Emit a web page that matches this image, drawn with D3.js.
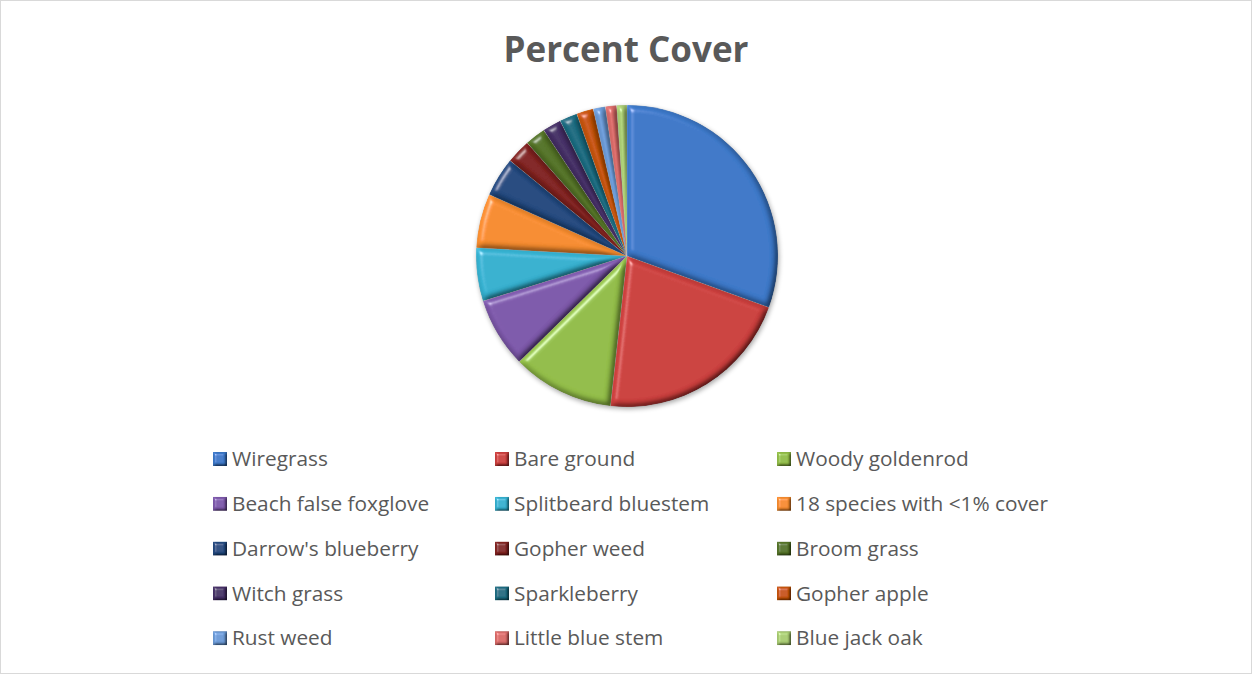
<!DOCTYPE html>
<html>
<head>
<meta charset="utf-8">
<script src="https://cdn.jsdelivr.net/npm/d3@7"></script>
<style>
  html, body { margin: 0; padding: 0; background: #ffffff; }
  svg { display: block; }
</style>
</head>
<body>
<svg id="chart" width="1252" height="674"></svg>
<script>
// Ground-cover composition of the plot, in percent
const categories = [
  "Wiregrass", "Bare ground", "Woody goldenrod",
  "Beach false foxglove", "Splitbeard bluestem", "18 species with <1% cover",
  "Darrow's blueberry", "Gopher weed", "Broom grass",
  "Witch grass", "Sparkleberry", "Gopher apple",
  "Rust weed", "Little blue stem", "Blue jack oak"
];
const coverValues = [30.5, 21.2, 10.9, 7.5, 5.7, 5.8, 4.2, 2.6, 2.2, 2.0, 1.9, 1.8, 1.3, 1.2, 1.1];
const sliceColors = [
  "#3c78c8", "#cb3f3d", "#92bd48", "#7d58aa", "#35b0cf", "#f68c2f",
  "#22497f", "#822220", "#557427", "#463067", "#1b6d82", "#c75508",
  "#6b9ad6", "#d86a68", "#a8cb72"
];
const titleText = "Percent Cover";

const W = 1252, H = 674;
const svg = d3.select("#chart");

// chart area frame
svg.append("rect")
  .attr("x", 0.5).attr("y", 0.5)
  .attr("width", W - 1).attr("height", H - 1)
  .attr("fill", "#ffffff").attr("stroke", "#d9d9d9");

// bevel filter giving each wedge raised edges
const defs = svg.append("defs");
function bevel(id, blur, surface, specExp) {
  const f = defs.append("filter").attr("id", id)
    .attr("x", "-10%").attr("y", "-10%").attr("width", "120%").attr("height", "120%");
  f.append("feGaussianBlur").attr("in", "SourceAlpha").attr("stdDeviation", blur).attr("result", "blur");
  const spec = f.append("feSpecularLighting").attr("in", "blur")
    .attr("surfaceScale", surface).attr("specularConstant", 0.65)
    .attr("specularExponent", specExp).attr("lighting-color", "#ffffff").attr("result", "spec");
  spec.append("feDistantLight").attr("azimuth", 225).attr("elevation", 40);
  f.append("feComposite").attr("in", "spec").attr("in2", "SourceAlpha").attr("operator", "in").attr("result", "specIn");
  const dif = f.append("feDiffuseLighting").attr("in", "blur")
    .attr("surfaceScale", surface).attr("diffuseConstant", 1.0)
    .attr("lighting-color", "#ffffff").attr("result", "diff");
  dif.append("feDistantLight").attr("azimuth", 225).attr("elevation", 60);
  f.append("feComposite").attr("in", "SourceGraphic").attr("in2", "diff")
    .attr("operator", "arithmetic").attr("k1", 1.155).attr("k2", 0).attr("k3", 0).attr("k4", 0)
    .attr("result", "lit");
  f.append("feComposite").attr("in", "lit").attr("in2", "SourceAlpha").attr("operator", "in").attr("result", "litIn");
  f.append("feComposite").attr("in", "specIn").attr("in2", "litIn")
    .attr("operator", "arithmetic").attr("k1", 0).attr("k2", 0.6).attr("k3", 1).attr("k4", 0);
}
bevel("bevelPie", 3, 5, 40);
bevel("bevelKey", 1.5, 3, 30);

// shadow under the pie
const shadow = defs.append("filter").attr("id", "pieShadow")
  .attr("x", "-20%").attr("y", "-20%").attr("width", "140%").attr("height", "140%");
shadow.append("feGaussianBlur").attr("in", "SourceAlpha").attr("stdDeviation", 2.5);
shadow.append("feOffset").attr("dx", 1).attr("dy", 2).attr("result", "off");
shadow.append("feComponentTransfer").append("feFuncA").attr("type", "linear").attr("slope", 0.35);

// title
svg.append("text")
  .attr("x", 626).attr("y", 62)
  .attr("text-anchor", "middle")
  .attr("font-family", "'Open Sans', 'Liberation Sans', sans-serif")
  .attr("font-weight", 700)
  .attr("font-size", 35)
  .attr("fill", "#595959")
  .text(titleText);

// pie
const cx = 627, cy = 256, R = 151;
const color = d3.scaleOrdinal().domain(categories).range(sliceColors);
const pie = d3.pie().sort(null).value(d => d.value);
const arc = d3.arc().innerRadius(0).outerRadius(R);
const data = categories.map((c, i) => ({ name: c, value: coverValues[i] }));

const g = svg.append("g").attr("transform", `translate(${cx},${cy})`);
g.append("circle").attr("r", R).attr("fill", "#777").attr("filter", "url(#pieShadow)");
g.selectAll("path.slice")
  .data(pie(data))
  .join("path")
  .attr("class", "slice")
  .attr("d", arc)
  .attr("fill", d => color(d.data.name))
  .attr("stroke", "rgba(255,255,255,0.3)")
  .attr("stroke-width", 0.6)
  .attr("filter", "url(#bevelPie)");

// legend: three columns, row-major
const colX = [213, 495, 777];
const rowY0 = 459, rowStep = 44.8;
const legend = svg.append("g");
const items = legend.selectAll("g.item")
  .data(categories)
  .join("g")
  .attr("class", "item")
  .attr("transform", (d, i) => `translate(${colX[i % 3]},${rowY0 + Math.floor(i / 3) * rowStep})`);
items.append("rect")
  .attr("x", 0).attr("y", -7).attr("width", 14).attr("height", 14)
  .attr("fill", d => color(d))
  .attr("filter", "url(#bevelKey)");
items.append("text")
  .attr("x", 19).attr("y", 0)
  .attr("dy", "0.35em")
  .attr("font-family", "'Open Sans', 'Liberation Sans', sans-serif")
  .attr("font-size", 20.8)
  .attr("fill", "#595959")
  .text(d => d);
</script>
</body>
</html>
